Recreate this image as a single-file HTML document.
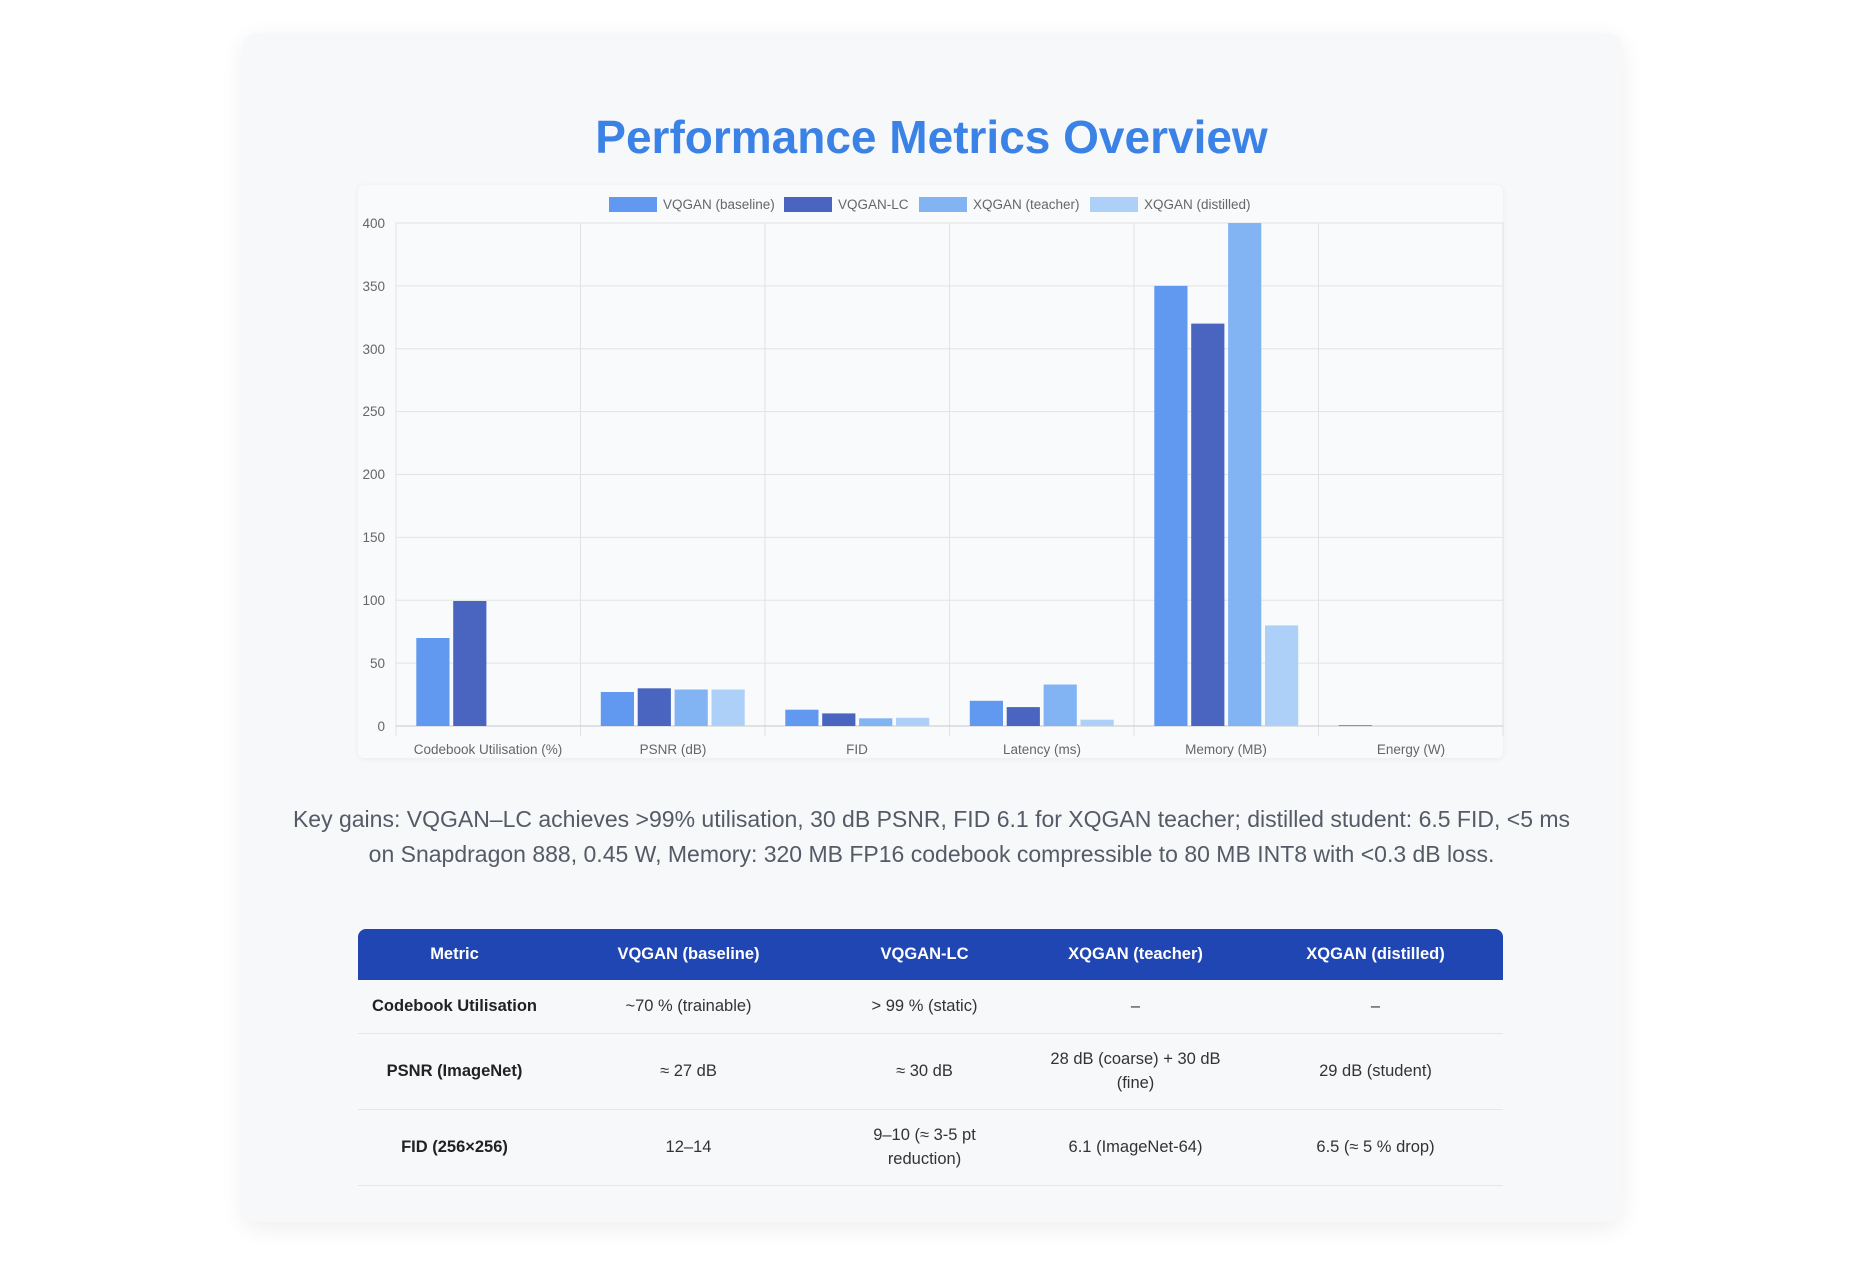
<!DOCTYPE html>
<html><head><meta charset="utf-8"><style>
html,body{margin:0;padding:0;background:#fff;width:1863px;height:1280px;overflow:hidden;font-family:"Liberation Sans",sans-serif;}
.card{position:absolute;left:243px;top:33px;width:1379px;height:1189px;background:#f6f8fa;border-radius:14px;box-shadow:0 6px 24px rgba(0,0,0,0.07);}
.title{position:absolute;left:0;width:1863px;top:110px;text-align:center;font-size:46px;font-weight:bold;color:#3b82e6;}
.chart{position:absolute;left:358px;top:185px;width:1145px;height:573px;background:#f9fafb;border-radius:6px;box-shadow:0 1px 6px rgba(0,0,0,0.06);}
.para{position:absolute;left:286px;width:1291px;top:802px;text-align:center;font-size:23px;line-height:35px;color:#555b66;}
table{position:absolute;left:358px;top:929px;width:1145px;border-collapse:collapse;font-size:16.5px;color:#333;}
th{background:#1f46b3;color:#fff;font-weight:bold;height:51px;padding:0;}
th:first-child{border-top-left-radius:8px;}th:last-child{border-top-right-radius:8px;}
td{text-align:center;border-bottom:1px solid #e4e8ee;padding:0 10px;line-height:24px;}
td:first-child{font-weight:bold;color:#222;}
</style></head><body>
<div class="card"></div>
<div class="title">Performance Metrics Overview</div>
<div class="chart"></div>
<svg style="position:absolute;left:0;top:0" width="1863" height="1280" font-family="Liberation Sans, sans-serif">
<g stroke="#e3e3e3" stroke-width="1">
<line x1="396" y1="223" x2="1503" y2="223"/><line x1="396" y1="285.9" x2="1503" y2="285.9"/><line x1="396" y1="348.8" x2="1503" y2="348.8"/><line x1="396" y1="411.6" x2="1503" y2="411.6"/><line x1="396" y1="474.5" x2="1503" y2="474.5"/><line x1="396" y1="537.4" x2="1503" y2="537.4"/><line x1="396" y1="600.3" x2="1503" y2="600.3"/><line x1="396" y1="663.1" x2="1503" y2="663.1"/>
<line x1="396" y1="223" x2="396" y2="736"/><line x1="580.5" y1="223" x2="580.5" y2="736"/><line x1="765" y1="223" x2="765" y2="736"/><line x1="949.5" y1="223" x2="949.5" y2="736"/><line x1="1134" y1="223" x2="1134" y2="736"/><line x1="1318.5" y1="223" x2="1318.5" y2="736"/><line x1="1503" y1="223" x2="1503" y2="736"/>
</g>
<line x1="396" y1="726" x2="1503" y2="726" stroke="#c8c8c8"/>
<g font-size="13.5" fill="#666" text-anchor="end">
<text x="385" y="228">400</text><text x="385" y="291">350</text><text x="385" y="354">300</text><text x="385" y="416">250</text><text x="385" y="479">200</text><text x="385" y="542">150</text><text x="385" y="605">100</text><text x="385" y="668">50</text><text x="385" y="731">0</text>
</g>
<g font-size="13.5" fill="#666" text-anchor="middle">
<text x="488" y="754">Codebook Utilisation (%)</text><text x="673" y="754">PSNR (dB)</text><text x="857" y="754">FID</text><text x="1042" y="754">Latency (ms)</text><text x="1226" y="754">Memory (MB)</text><text x="1411" y="754">Energy (W)</text>
</g>
<g>
<rect x="416.3" y="638" width="33.2" height="88" fill="#6299f0"/><rect x="453.2" y="601" width="33.2" height="125" fill="#4a65c0"/>
<rect x="600.8" y="692" width="33.2" height="34" fill="#6299f0"/><rect x="637.7" y="688.3" width="33.2" height="37.7" fill="#4a65c0"/><rect x="674.6" y="689.5" width="33.2" height="36.5" fill="#82b4f4"/><rect x="711.5" y="689.5" width="33.2" height="36.5" fill="#add0f8"/>
<rect x="785.3" y="709.7" width="33.2" height="16.3" fill="#6299f0"/><rect x="822.2" y="713.4" width="33.2" height="12.6" fill="#4a65c0"/><rect x="859.1" y="718.3" width="33.2" height="7.7" fill="#82b4f4"/><rect x="896" y="717.8" width="33.2" height="8.2" fill="#add0f8"/>
<rect x="969.8" y="700.8" width="33.2" height="25.2" fill="#6299f0"/><rect x="1006.7" y="707.1" width="33.2" height="18.9" fill="#4a65c0"/><rect x="1043.6" y="684.5" width="33.2" height="41.5" fill="#82b4f4"/><rect x="1080.5" y="719.7" width="33.2" height="6.3" fill="#add0f8"/>
<rect x="1154.3" y="285.9" width="33.2" height="440.1" fill="#6299f0"/><rect x="1191.2" y="323.6" width="33.2" height="402.4" fill="#4a65c0"/><rect x="1228.1" y="223" width="33.2" height="503" fill="#82b4f4"/><rect x="1265" y="625.4" width="33.2" height="100.6" fill="#add0f8"/>
<rect x="1338.8" y="725" width="33.2" height="1" fill="#6299f0"/>
</g>
<g font-size="13.5" fill="#666">
<rect x="609" y="197" width="48" height="15" fill="#6299f0"/><text x="663" y="209">VQGAN (baseline)</text>
<rect x="784" y="197" width="48" height="15" fill="#4a65c0"/><text x="838" y="209">VQGAN-LC</text>
<rect x="919" y="197" width="48" height="15" fill="#82b4f4"/><text x="973" y="209">XQGAN (teacher)</text>
<rect x="1090" y="197" width="48" height="15" fill="#add0f8"/><text x="1144" y="209">XQGAN (distilled)</text>
</g>
</svg>
<div class="para">Key gains: VQGAN–LC achieves &gt;99% utilisation, 30 dB PSNR, FID 6.1 for XQGAN teacher; distilled student: 6.5 FID, &lt;5 ms on Snapdragon 888, 0.45 W, Memory: 320 MB FP16 codebook compressible to 80 MB INT8 with &lt;0.3 dB loss.</div>
<table>
<colgroup><col style="width:193px"><col style="width:275px"><col style="width:197px"><col style="width:225px"><col style="width:255px"></colgroup>
<tr><th>Metric</th><th>VQGAN (baseline)</th><th>VQGAN-LC</th><th>XQGAN (teacher)</th><th>XQGAN (distilled)</th></tr>
<tr style="height:53px"><td>Codebook Utilisation</td><td>~70 % (trainable)</td><td>&gt; 99 % (static)</td><td>–</td><td>–</td></tr>
<tr style="height:76px"><td>PSNR (ImageNet)</td><td>≈ 27 dB</td><td>≈ 30 dB</td><td>28 dB (coarse) + 30 dB (fine)</td><td>29 dB (student)</td></tr>
<tr style="height:76px"><td>FID (256×256)</td><td>12–14</td><td>9–10 (≈ 3-5 pt reduction)</td><td>6.1 (ImageNet-64)</td><td>6.5 (≈ 5 % drop)</td></tr>
</table>
</body></html>
